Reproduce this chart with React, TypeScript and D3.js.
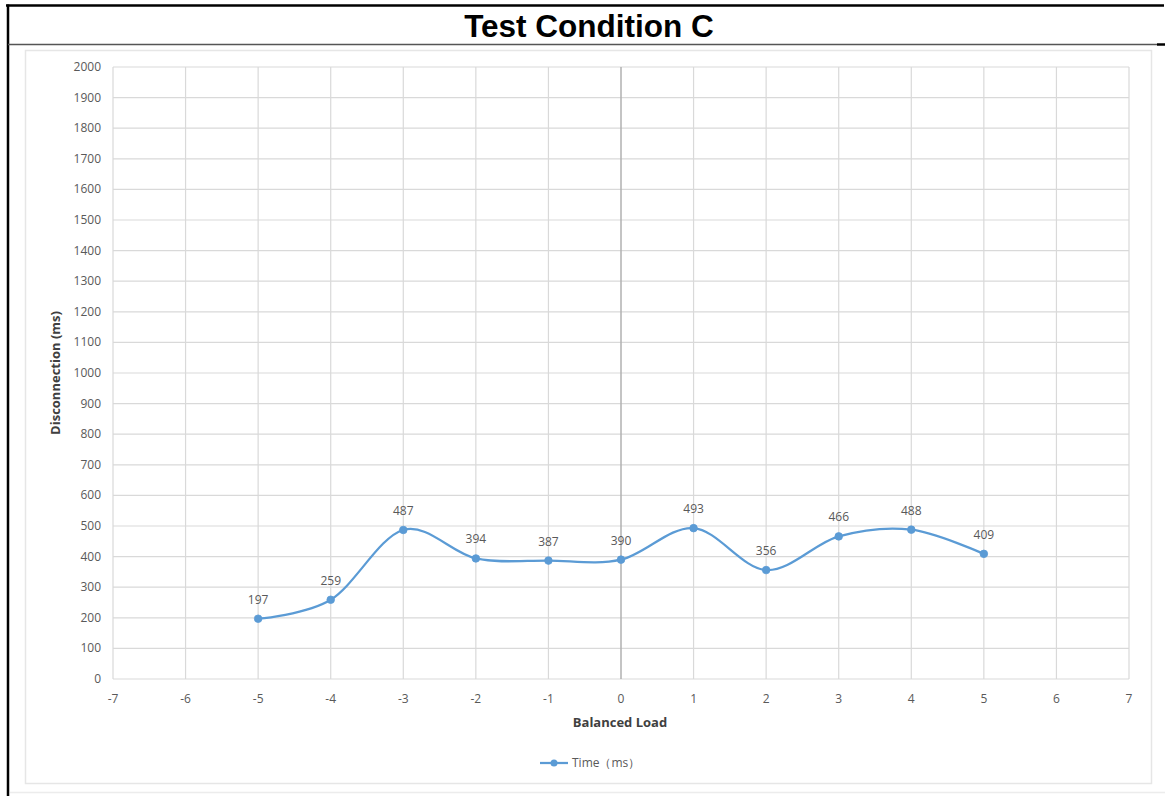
import React from "react";
import * as d3 from "d3";

// Disconnection time per balanced-load step
const loads: number[] = [-5, -4, -3, -2, -1, 0, 1, 2, 3, 4, 5];
const times: number[] = [197, 259, 487, 394, 387, 390, 493, 356, 466, 488, 409];
const xTicks: number[] = d3.range(-7, 8, 1);
const yTicks: number[] = d3.range(0, 2001, 100);

const W = 1165;
const H = 796;
const plot = { left: 113, right: 1129, top: 67, bottom: 679 };

const BLUE = "#5B9BD5";
const GRID = "#d9d9d9";
const TEXT = "#595959";
const FONT = "'Open Sans', 'Liberation Sans', Arial, sans-serif";

export default function App() {
  const x = d3.scaleLinear().domain([-7, 7]).range([plot.left, plot.right]);
  const y = d3.scaleLinear().domain([0, 2000]).range([plot.bottom, plot.top]);

  const points = loads.map((l, i) => ({ l, v: times[i] }));
  const line = d3
    .line<{ l: number; v: number }>()
    .x((d) => x(d.l))
    .y((d) => y(d.v))
    .curve(d3.curveCardinal.tension(0));

  return (
    <div style={{ position: "absolute", left: 0, top: 0 }}>
      <svg width={W} height={H} style={{ display: "block", background: "#fff" }}>
        {/* outer table frame */}
        <line x1={6} x2={1164} y1={5.5} y2={5.5} stroke="#000" strokeWidth={2.5} />
        <line x1={8} x2={8} y1={4.5} y2={H} stroke="#000" strokeWidth={2.5} />
        <line x1={8} x2={1157} y1={44.5} y2={44.5} stroke="#555" strokeWidth={1.5} />
        <line x1={1157} x2={W} y1={44.5} y2={44.5} stroke="#000" strokeWidth={2.5} />
        <text
          x={589}
          y={37}
          textAnchor="middle"
          fontFamily="'Liberation Sans', Arial, sans-serif"
          fontWeight="bold"
          fontSize={31.5}
          fill="#000"
        >
          Test Condition C
        </text>

        {/* chart area border */}
        <rect x={25.5} y={50.5} width={1126} height={733} fill="#fff" stroke="#e6e6e6" strokeWidth={1.5} />
        <line x1={10} x2={W} y1={792.5} y2={792.5} stroke="#ececec" strokeWidth={1.5} />

        {/* gridlines */}
        <g>
          {yTicks.map((t) => (
            <line key={"h" + t} x1={plot.left} x2={plot.right} y1={y(t)} y2={y(t)} stroke={GRID} strokeWidth={1.2} />
          ))}
          {xTicks.map((t) => (
            <line
              key={"v" + t}
              x1={x(t)}
              x2={x(t)}
              y1={plot.top}
              y2={plot.bottom}
              stroke={t === 0 ? "#b0b0b0" : GRID}
              strokeWidth={t === 0 ? 1.5 : 1.2}
            />
          ))}
        </g>

        {/* tick labels */}
        <g fontFamily={FONT} fontSize={12} fill={TEXT}>
          {yTicks.map((t) => (
            <text key={"yl" + t} x={101} y={y(t) + 4} textAnchor="end">
              {t}
            </text>
          ))}
          {xTicks.map((t) => (
            <text key={"xl" + t} x={x(t)} y={703} textAnchor="middle">
              {t}
            </text>
          ))}
        </g>

        {/* axis titles */}
        <text
          x={620}
          y={727}
          textAnchor="middle"
          fontFamily={FONT}
          fontWeight="bold"
          fontSize={13}
          fill="#404040"
        >
          Balanced Load
        </text>
        <text
          transform={`translate(60, ${(plot.top + plot.bottom) / 2}) rotate(-90)`}
          textAnchor="middle"
          fontFamily={FONT}
          fontWeight="bold"
          fontSize={13}
          fill="#404040"
        >
          Disconnection (ms)
        </text>

        {/* series */}
        <path d={line(points) || ""} fill="none" stroke={BLUE} strokeWidth={2.25} strokeLinejoin="round" />
        {points.map((p) => (
          <circle key={"m" + p.l} cx={x(p.l)} cy={y(p.v)} r={3.8} fill={BLUE} stroke={BLUE} strokeWidth={0.8} />
        ))}
        <g fontFamily={FONT} fontSize={12} fill={TEXT}>
          {points.map((p) => (
            <text key={"dl" + p.l} x={x(p.l)} y={y(p.v) - 15} textAnchor="middle">
              {p.v}
            </text>
          ))}
        </g>

        {/* legend */}
        <g>
          <line x1={540} x2={568} y1={763} y2={763} stroke={BLUE} strokeWidth={2.25} />
          <circle cx={554} cy={763} r={3.5} fill={BLUE} />
          <text x={572} y={767} fontFamily={FONT} fontSize={12} fill={TEXT}>
            Time（ms）
          </text>
        </g>
      </svg>
    </div>
  );
}
